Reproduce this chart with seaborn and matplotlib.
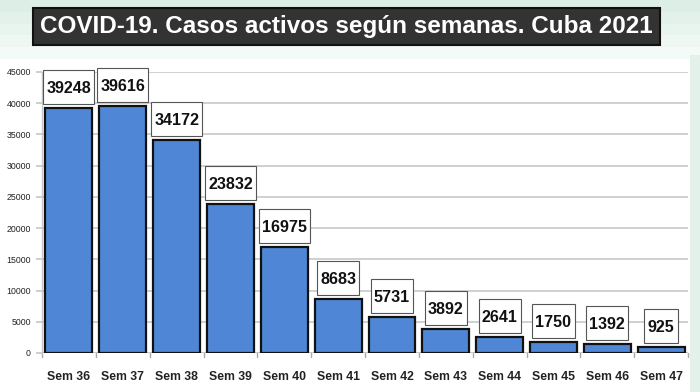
#!/usr/bin/env python3
"""COVID-19 active cases by week, Cuba 2021 - bar chart."""

import matplotlib

matplotlib.use("Agg")
import matplotlib.pyplot as plt
from matplotlib.patches import Rectangle
import pandas as pd
import seaborn as sns

WEEKS = ["Sem 36", "Sem 37", "Sem 38", "Sem 39", "Sem 40", "Sem 41",
         "Sem 42", "Sem 43", "Sem 44", "Sem 45", "Sem 46", "Sem 47"]
CASES = [39248, 39616, 34172, 23832, 16975, 8683,
         5731, 3892, 2641, 1750, 1392, 925]
Y_TICKS = list(range(0, 45001, 5000))
TITLE = "COVID-19. Casos activos según semanas. Cuba 2021"

BAR_BLUE = "#4f87d6"
GRID = "#c8c8c8"
FONTS = ["Liberation Sans", "DejaVu Sans"]


def main() -> None:
    sns.set_theme(style="white")
    plt.rcParams["font.family"] = FONTS

    df = pd.DataFrame({"week": WEEKS, "cases": CASES})

    fig = plt.figure(figsize=(7.0, 3.92), dpi=100, facecolor="white")
    # light green header band
    for i, c in enumerate(["#dceee6", "#e2f1ea", "#e8f4ee", "#eef7f2", "#f4faf7"]):
        fig.patches.append(Rectangle((0, 1 - (i + 1) * 0.03), 1, 0.03, transform=fig.transFigure,
                                     facecolor=c, edgecolor="none", zorder=0))
    fig.patches.append(Rectangle((0.985, 0), 0.015, 0.86, transform=fig.transFigure,
                                 facecolor="#e3f1ea", edgecolor="none", zorder=0))

    ax = fig.add_axes([0.06, 0.0995, 0.923, 0.717])
    ax.set_facecolor("white")
    sns.barplot(data=df, x="week", y="cases", color=BAR_BLUE, saturation=1,
                width=0.87, edgecolor="#111111", linewidth=1.6, ax=ax, zorder=3)

    ax.set_ylim(0, 45000)
    ax.set_yticks(Y_TICKS)
    ax.set_yticklabels([str(t) for t in Y_TICKS], fontsize=6.3, color="#222222")
    ax.yaxis.grid(True, color=GRID, linewidth=1.2, zorder=0)
    ax.set_xlim(-0.5, len(WEEKS) - 0.5)
    ax.set_xlabel("")
    ax.set_ylabel("")
    for lab in ax.get_xticklabels():
        lab.set_fontsize(8.8)
        lab.set_fontweight("bold")
        lab.set_color("#222222")
    ax.tick_params(axis="x", length=0, pad=13)
    ax.tick_params(axis="y", length=4, color=GRID, left=True, pad=4)
    for side in ["top", "right", "bottom"]:
        ax.spines[side].set_visible(False)
    ax.spines["left"].set_color(GRID)
    ax.spines["left"].set_linewidth(1.0)
    ax.axhline(0, color="#aaaaaa", linewidth=1.0, zorder=2)
    # category separator ticks under baseline
    for k in range(len(WEEKS) + 1):
        ax.plot([k - 0.5, k - 0.5], [0, -700], color="#aaaaaa", linewidth=1.0, clip_on=False, zorder=2)

    # value label boxes (sized in pixels, converted to data units)
    px_x = len(WEEKS) / (ax.get_position().width * fig.get_figwidth() * fig.dpi)
    px_y = 45000 / (ax.get_position().height * fig.get_figheight() * fig.dpi)
    for i, v in enumerate(CASES):
        label = str(v)
        w = (len(label) * 8.8 + 7) * px_x
        h = 34 * px_y
        y0 = v + 4 * px_y
        ax.add_patch(Rectangle((i - w / 2, y0), w, h, facecolor="white", edgecolor="#555555",
                               linewidth=0.8, zorder=5, clip_on=False))
        ax.text(i, y0 + h / 2, label, ha="center", va="center_baseline", fontsize=11.6,
                fontweight="bold", color="#111111", zorder=6)

    fig.text(0.495, 0.932, TITLE, ha="center", va="center", fontsize=17.5, fontweight="bold",
             color="white",
             bbox=dict(boxstyle="square,pad=0.3", facecolor="#333333", edgecolor="#111111", linewidth=1.5))

    fig.savefig("out.png", dpi=100, facecolor=fig.get_facecolor())
    plt.close(fig)


if __name__ == "__main__":
    main()
